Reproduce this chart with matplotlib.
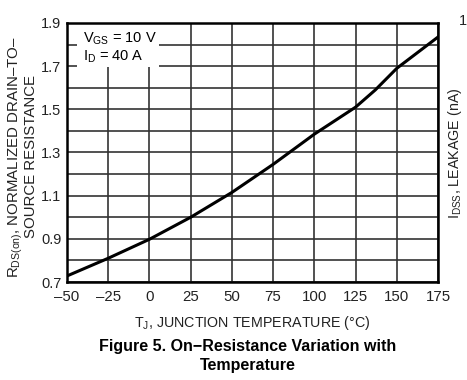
import matplotlib
matplotlib.use("Agg")
import matplotlib.pyplot as plt
from matplotlib.patches import Rectangle
import numpy as np

plt.rcParams['font.family'] = ['Liberation Sans', 'DejaVu Sans']
plt.rcParams['mathtext.fontset'] = 'custom'
plt.rcParams['mathtext.rm'] = 'Liberation Sans'
plt.rcParams['mathtext.it'] = 'Liberation Sans'

temp = [-50, -25, 0, 25, 50, 75, 100, 125, 137, 150, 175]
rds_norm = [0.728, 0.81, 0.898, 1.0, 1.115, 1.245, 1.385, 1.51, 1.59, 1.69, 1.835]

xticks = [-50, -25, 0, 25, 50, 75, 100, 125, 150, 175]
yticks = [0.7, 0.9, 1.1, 1.3, 1.5, 1.7, 1.9]

fig = plt.figure(figsize=(4.67, 3.8), dpi=100)
ax = fig.add_axes([67/467, 1-282/380, (438-67)/467, (282-23)/380])

ax.plot(temp, rds_norm, color='black', lw=2.2, zorder=3)

ax.set_xlim(-50, 175)
ax.set_ylim(0.7, 1.9)
ax.set_xticks(xticks)
ax.set_yticks(yticks)
ax.set_yticks(np.arange(0.8, 1.9, 0.2), minor=True)
ax.set_xticklabels(['\u201350', '\u201325'] + [str(t) for t in xticks[2:]])
ax.tick_params(axis='x', length=0, labelsize=10.8, pad=6, colors='#222222')
ax.tick_params(axis='y', length=0, labelsize=10.5, pad=4, colors='#222222')
ax.tick_params(which='minor', length=0)
ax.grid(True, which='both', color='#333333', lw=1.2, zorder=1)
for s in ax.spines.values():
    s.set_linewidth(1.8)
    s.set_color('black')
    s.set_zorder(4)

# white box behind the test conditions
ax.add_patch(Rectangle((-44, 1.694), 49.5, 0.21, facecolor='white', edgecolor='none', zorder=2))
ax.text(-40.3, 1.826, 'V$_{\\mathrm{GS}}$ = 10 V', fontsize=10.5, va='center', ha='left', zorder=5)
ax.text(-40.3, 1.743, 'I$_{\\mathrm{D}}$ = 40 A', fontsize=10.5, va='center', ha='left', zorder=5)

ax.set_xlabel('T$_{\\mathrm{J}}$, JUNCTION TEMPERATURE (\u00b0C)', fontsize=10.3, labelpad=7, color='#222222')

fig.text(0.047, 0.587, 'R$_{\\mathrm{DS(on)}}$, NORMALIZED DRAIN\u2013TO\u2013\nSOURCE RESISTANCE',
         rotation=90, ha='center', va='center', fontsize=10.8, linespacing=0.9, color='#222222')
fig.text(455/467, 1-153/380, 'I$_{\\mathrm{DSS}}$, LEAKAGE (nA)', rotation=90,
         ha='center', va='center', fontsize=10.3, color='#222222')
fig.text(459/467, 1-21/380, '1', ha='left', va='center', fontsize=10.5, color='#222222')

fig.text(248/467, 1-356/380, 'Figure 5. On\u2212Resistance Variation with\nTemperature',
         ha='center', va='center', fontsize=11.5, fontweight='bold', linespacing=1.35)

fig.savefig('out.png', dpi=100)
